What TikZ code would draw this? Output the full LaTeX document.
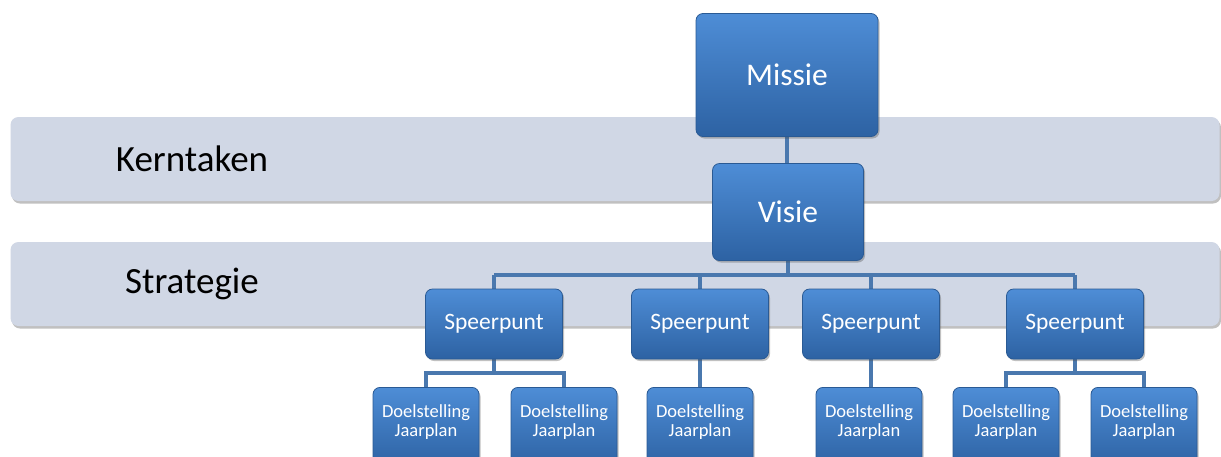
\documentclass[tikz,border=0pt]{standalone}
\usepackage{fontspec}
\setmainfont{Carlito}
\usetikzlibrary{shadows,calc}
\definecolor{bandfill}{HTML}{D0D7E5}
\definecolor{boxtop}{HTML}{4E8DD6}
\definecolor{boxbot}{HTML}{2D62A3}
\definecolor{boxline}{HTML}{2A5A94}
\definecolor{linkcol}{HTML}{4A78AE}
\tikzset{
  band/.style={fill=bandfill, draw=none, rounded corners=8pt,
    drop shadow={shadow xshift=1.5pt, shadow yshift=-2.5pt, opacity=0.35, fill=black!70}},
  bluebox/.style={rounded corners=7pt, top color=boxtop, bottom color=boxbot,
    draw=boxline, line width=0.8pt, text=white, align=center, inner sep=0pt,
    drop shadow={shadow xshift=1.5pt, shadow yshift=-2pt, opacity=0.35, fill=black!70}},
  bigbox/.style={bluebox, minimum width=182pt, minimum height=123pt, font=\fontsize{31.5}{34}\selectfont},
  visbox/.style={bluebox, minimum width=151pt, minimum height=97pt, font=\fontsize{31.5}{34}\selectfont},
  spbox/.style={bluebox, minimum width=137pt, minimum height=70pt, font=\fontsize{23.5}{26}\selectfont},
  dlbox/.style={bluebox, minimum width=106pt, minimum height=80pt, anchor=north},
  dltext/.style={text=white, font=\fontsize{18.5}{21}\selectfont, align=center, anchor=center},
  link/.style={draw=linkcol, line width=4pt},
  bandlabel/.style={font=\fontsize{37}{40}\selectfont, text=black}
}
\begin{document}
\begin{tikzpicture}[x=1pt,y=-1pt]
\useasboundingbox (0,0) rectangle (1221,456);
\clip (0,0) rectangle (1221,456);
\fill[white] (0,0) rectangle (1221,456);
% bands
\node[band, minimum width=1209pt, minimum height=84pt, inner sep=0pt] (b1) at (615,159) {};
\node[band, minimum width=1209pt, minimum height=84pt, inner sep=0pt] (b2) at (615,284) {};
\node[bandlabel] (kt) at (192,159) {Kerntaken};
\node[bandlabel] (st) at (192,284) {Strategie};
% connector coordinates
\coordinate (busA) at (788,275);
\coordinate (sp1top) at (494,275);
\coordinate (sp2top) at (700,275);
\coordinate (sp3top) at (871,275);
\coordinate (sp4top) at (1075,275);
% connectors
\draw[link] (787,136) -- (787,163);
\draw[link] (788,260) -- (busA);
\draw[link] (sp1top) -- (sp4top);
\draw[link] (sp1top) -- (494,290);
\draw[link] (sp2top) -- (700,290);
\draw[link] (sp3top) -- (871,290);
\draw[link] (sp4top) -- (1075,290);
\draw[link] (426,388) |- (564,373) -- (564,388);
\draw[link] (494,358) -- (494,373);
\draw[link] (1006,388) |- (1144,373) -- (1144,388);
\draw[link] (1075,358) -- (1075,373);
\draw[link] (700,358) -- (700,388);
\draw[link] (871,358) -- (871,388);
% boxes
\node[bigbox] (missie) at (787,75) {Missie};
\node[visbox] (visie) at (788,212) {Visie};
\node[spbox] (sp1) at (494,324) {Speerpunt};
\node[spbox] (sp2) at (700,324) {Speerpunt};
\node[spbox] (sp3) at (871,324) {Speerpunt};
\node[spbox] (sp4) at (1075,324) {Speerpunt};
\foreach \n/\x in {d1/426,d2/564,d3/700,d4/869,d5/1006,d6/1144}{
  \node[dlbox] (\n) at (\x,387) {};
  \node[dltext] (\n t) at (\x,422) {Doelstelling\\[-2pt]Jaarplan};
}
\end{tikzpicture}
\end{document}
